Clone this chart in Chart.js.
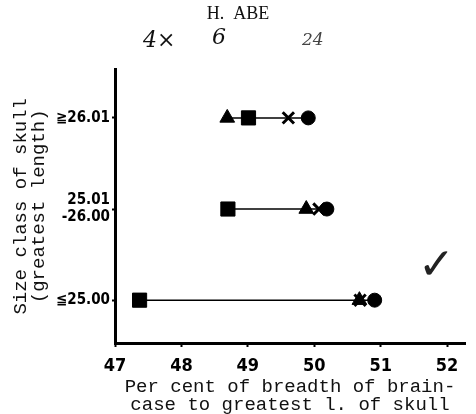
<!DOCTYPE html>
<html>
<head>
<meta charset="utf-8">
<script src="https://cdn.jsdelivr.net/npm/chart.js@4"></script>
<style>
  body { margin: 0; background: #fff; }
  canvas { display: block; }
</style>
</head>
<body>
<canvas id="skullChart" width="476" height="414"></canvas>
<script>
// rows of the y axis (bottom to top) and their labels
const rowPositions = [0, 1, 2];
const rowLabels = ['≦25.00', ['25.01', '-26.00'], '≧26.01'];

// x axis ticks
const xTicks = [47, 48, 49, 50, 51, 52];

// per cent values per size class (same order as rowPositions)
const triangleValues = [50.68, 49.88, 48.69];
const squareValues = [47.37, 48.70, 49.01];
const crossValues = [50.69, 50.07, 49.61];
const circleValues = [50.91, 50.19, 49.91];

const toPoints = vals => vals.map((v, i) => ({ x: v, y: rowPositions[i] }));

// connecting line from the smallest to the largest value in each row
const rangeLines = rowPositions.map((row, i) => {
    const vals = [triangleValues[i], squareValues[i], crossValues[i], circleValues[i]];
    return {
        data: [{ x: Math.min(...vals), y: row }, { x: Math.max(...vals), y: row }],
        showLine: true,
        borderColor: '#000',
        borderWidth: 1.5,
        pointRadius: 0,
        order: 10
    };
});

function markerSet(vals, style, radius, extra) {
    return Object.assign({
        data: toPoints(vals),
        pointStyle: style,
        pointRadius: radius,
        pointBackgroundColor: '#000',
        pointBorderColor: '#000',
        pointBorderWidth: 1,
        showLine: false,
        order: 1
    }, extra || {});
}

// handwritten marks on the scan
const scribbles = {
    id: 'scribbles',
    afterDraw(chart) {
        const ctx = chart.ctx;
        ctx.save();
        ctx.fillStyle = '#111';
        ctx.font = 'italic 22px "DejaVu Serif"';
        ctx.textBaseline = 'middle';
        ctx.fillText('4×', 143, 41);
        ctx.fillText('6', 212, 38);
        ctx.font = 'italic 17px "DejaVu Serif"';
        ctx.fillStyle = '#444';
        ctx.fillText('24', 302, 41);
        ctx.font = '44px "DejaVu Sans"';
        ctx.fillStyle = '#222';
        ctx.fillText('✓', 418, 268);
        ctx.restore();
    }
};

const ctx = document.getElementById('skullChart').getContext('2d');
new Chart(ctx, {
    type: 'scatter',
    data: {
        datasets: [
            ...rangeLines,
            markerSet(triangleValues, 'triangle', 8.5),
            markerSet(squareValues, 'rect', 10),
            markerSet(crossValues, 'crossRot', 8, { pointBorderWidth: 3 }),
            markerSet(circleValues, 'circle', 7)
        ]
    },
    plugins: [scribbles],
    options: {
        responsive: false,
        devicePixelRatio: 1,
        animation: false,
        layout: { padding: 0 },
        plugins: {
            legend: { display: false },
            tooltip: { enabled: false },
            title: {
                display: true,
                text: 'H.  ABE',
                color: '#111',
                font: { family: '"Liberation Serif"', size: 18, weight: 'normal' },
                padding: { top: 3, bottom: 45 }
            }
        },
        scales: {
            x: {
                type: 'linear',
                min: 47,
                max: 52.27,
                afterBuildTicks: scale => { scale.ticks = xTicks.map(v => ({ value: v })); },
                afterFit: scale => { scale.height = 71; },
                grid: { drawOnChartArea: false, tickLength: 4, tickWidth: 2, tickColor: '#000' },
                border: { display: true, color: '#000', width: 3 },
                ticks: {
                    color: '#000',
                    padding: 9,
                    font: { family: '"DejaVu Sans Condensed", "DejaVu Sans"', size: 18, weight: 'bold' }
                },
                title: {
                    display: true,
                    text: ['Per cent of breadth of brain-', 'case to greatest l. of skull'],
                    color: '#111',
                    font: { family: '"Liberation Mono"', size: 19, lineHeight: '18px' },
                    padding: { top: 0, bottom: 0 }
                }
            },
            y: {
                type: 'linear',
                min: -0.47,
                max: 2.53,
                afterBuildTicks: scale => { scale.ticks = rowPositions.map(v => ({ value: v })); },
                afterFit: scale => { scale.width = 115; },
                grid: { drawOnChartArea: false, tickLength: 3, tickWidth: 2, tickColor: '#000' },
                border: { display: true, color: '#000', width: 3 },
                ticks: {
                    color: '#000',
                    padding: 2,
                    font: { family: '"DejaVu Sans Condensed", "DejaVu Sans"', size: 15, weight: 'bold', lineHeight: '17px' },
                    callback: value => rowLabels[value]
                },
                title: {
                    display: true,
                    text: ['Size class of skull', '(greatest length)'],
                    color: '#111',
                    font: { family: '"Liberation Mono"', size: 19, lineHeight: '18px' },
                    padding: { top: 12, bottom: 0 }
                }
            }
        }
    }
});
</script>
</body>
</html>
